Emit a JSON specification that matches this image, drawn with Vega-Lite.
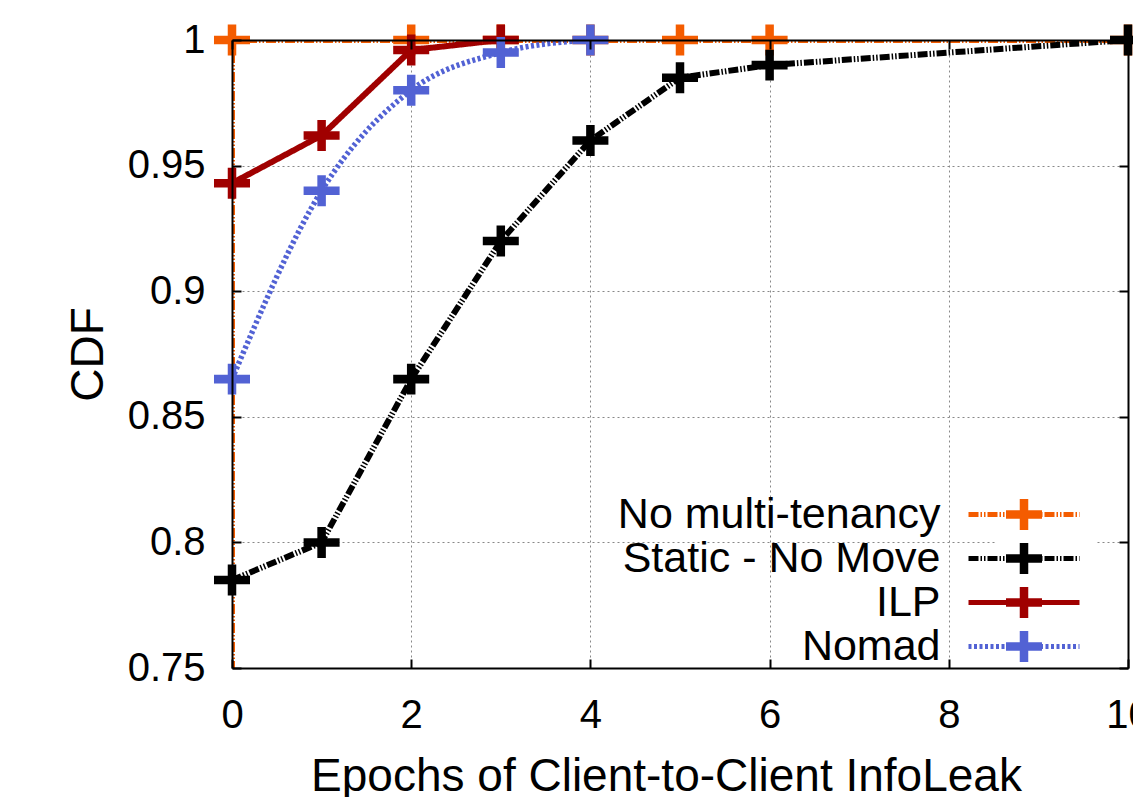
{
  "$schema": "https://vega.github.io/schema/vega-lite/v6.json",
  "width": 896,
  "height": 628,
  "autosize": {"type": "none"},
  "padding": {"left": 232, "top": 40, "right": 5, "bottom": 129},
  "background": "white",
  "config": {
    "font": "Liberation Sans",
    "view": {"stroke": null},
    "axis": {"labelColor": "black", "titleColor": "black", "domainColor": "black", "tickColor": "black", "labelFont": "Liberation Sans", "titleFont": "Liberation Sans", "titleFontWeight": "normal"}
  },
  "data": {
    "values": [
      {"series": "No multi-tenancy", "x": 0, "y": 0},
      {"series": "No multi-tenancy", "x": 0, "y": 1},
      {"series": "No multi-tenancy", "x": 2, "y": 1},
      {"series": "No multi-tenancy", "x": 3, "y": 1},
      {"series": "No multi-tenancy", "x": 4, "y": 1},
      {"series": "No multi-tenancy", "x": 5, "y": 1},
      {"series": "No multi-tenancy", "x": 6, "y": 1},
      {"series": "No multi-tenancy", "x": 10, "y": 1},
      {"series": "Static - No Move", "x": 0, "y": 0.785},
      {"series": "Static - No Move", "x": 1, "y": 0.8},
      {"series": "Static - No Move", "x": 2, "y": 0.865},
      {"series": "Static - No Move", "x": 3, "y": 0.92},
      {"series": "Static - No Move", "x": 4, "y": 0.96},
      {"series": "Static - No Move", "x": 5, "y": 0.985},
      {"series": "Static - No Move", "x": 6, "y": 0.99},
      {"series": "Static - No Move", "x": 10, "y": 1},
      {"series": "ILP", "x": 0, "y": 0.943},
      {"series": "ILP", "x": 1, "y": 0.962},
      {"series": "ILP", "x": 2, "y": 0.996},
      {"series": "ILP", "x": 3, "y": 1},
      {"series": "Nomad", "x": 0, "y": 0.865},
      {"series": "Nomad", "x": 1, "y": 0.94},
      {"series": "Nomad", "x": 2, "y": 0.98},
      {"series": "Nomad", "x": 3, "y": 0.995},
      {"series": "Nomad", "x": 4, "y": 1}
    ]
  },
  "resolve": {"axis": {"x": "independent", "y": "independent"}},
  "layer": [
    {
      "transform": [{"filter": "datum.series !== 'Nomad'"}],
      "mark": {"type": "line", "clip": true, "interpolate": "linear", "strokeCap": "butt", "strokeWidth": 6},
      "encoding": {
        "x": {"field": "x", "type": "quantitative", "scale": {"domain": [0, 10], "nice": false, "zero": false},
          "axis": {"orient": "bottom", "grid": true, "values": [2, 4, 6, 8], "gridDash": [2, 3], "gridColor": "#888888", "gridWidth": 1, "domain": false, "ticks": false, "labels": false, "title": null, "zindex": 0}},
        "y": {"field": "y", "type": "quantitative", "scale": {"domain": [0.75, 1], "nice": false, "zero": false},
          "axis": {"orient": "left", "grid": true, "values": [0.8, 0.85, 0.9, 0.95], "gridDash": [2, 3], "gridColor": "#888888", "gridWidth": 1, "domain": false, "ticks": false, "labels": false, "title": null, "zindex": 0}},
        "color": {"field": "series", "type": "nominal",
          "scale": {"domain": ["No multi-tenancy", "Static - No Move", "ILP", "Nomad"], "range": ["#f45c00", "#000000", "#a00000", "#5262d4"]},
          "legend": {"orient": "none", "legendX": 764.5, "legendY": 447, "title": null, "symbolType": "M-2.921,0H2.921", "symbolSize": 1444, "symbolStrokeWidth": 5, "labelFont": "Liberation Sans", "labelFontSize": 43, "labelColor": "black", "labelAlign": "right", "labelOffset": -105, "labelLimit": 0, "rowPadding": 0, "fillColor": "white", "padding": 6, "zindex": 0}},
        "strokeDash": {"field": "series", "type": "nominal",
          "scale": {"domain": ["No multi-tenancy", "Static - No Move", "ILP", "Nomad"], "range": [[10, 2, 1.5, 2, 1.5, 2], [10, 2, 1.5, 2, 1.5, 2], [1, 0], [3, 2.5]]},
          "legend": {"orient": "none", "legendX": 764.5, "legendY": 447, "title": null, "symbolType": "M-2.921,0H2.921", "symbolSize": 1444, "symbolStrokeWidth": 5, "labelFont": "Liberation Sans", "labelFontSize": 43, "labelColor": "black", "labelAlign": "right", "labelOffset": -105, "labelLimit": 0, "rowPadding": 0, "fillColor": "white", "padding": 6, "zindex": 0}}
      }
    },
    {
      "transform": [{"filter": "datum.series === 'Nomad'"}],
      "mark": {"type": "line", "clip": true, "interpolate": "monotone", "strokeCap": "butt", "strokeWidth": 5.5},
      "encoding": {
        "x": {"field": "x", "type": "quantitative",
          "axis": {"orient": "top", "grid": false, "values": [0, 2, 4, 6, 8, 10], "domain": true, "domainWidth": 2, "ticks": true, "tickSize": -9, "tickWidth": 2, "labels": false, "title": null, "zindex": 1}},
        "y": {"field": "y", "type": "quantitative",
          "axis": {"orient": "right", "grid": false, "values": [0.75, 0.8, 0.85, 0.9, 0.95, 1], "domain": true, "domainWidth": 2, "ticks": true, "tickSize": -9, "tickWidth": 2, "labels": false, "title": null, "zindex": 1}},
        "color": {"field": "series", "type": "nominal",
          "scale": {"domain": ["No multi-tenancy", "Static - No Move", "ILP", "Nomad"], "range": ["#f45c00", "#000000", "#a00000", "#5262d4"]},
          "legend": {"orient": "none", "legendX": 764.5, "legendY": 447, "title": null, "symbolType": "M-2.921,0H2.921", "symbolSize": 1444, "symbolStrokeWidth": 5, "labelFont": "Liberation Sans", "labelFontSize": 43, "labelColor": "black", "labelAlign": "right", "labelOffset": -105, "labelLimit": 0, "rowPadding": 0, "fillColor": "white", "padding": 6, "zindex": 0}},
        "strokeDash": {"field": "series", "type": "nominal",
          "scale": {"domain": ["No multi-tenancy", "Static - No Move", "ILP", "Nomad"], "range": [[10, 2, 1.5, 2, 1.5, 2], [10, 2, 1.5, 2, 1.5, 2], [1, 0], [3, 2.5]]},
          "legend": {"orient": "none", "legendX": 764.5, "legendY": 447, "title": null, "symbolType": "M-2.921,0H2.921", "symbolSize": 1444, "symbolStrokeWidth": 5, "labelFont": "Liberation Sans", "labelFontSize": 43, "labelColor": "black", "labelAlign": "right", "labelOffset": -105, "labelLimit": 0, "rowPadding": 0, "fillColor": "white", "padding": 6, "zindex": 0}}
      }
    },
    {
      "mark": {"type": "point", "shape": "M-1.091,-0.258H-0.258V-0.939H0.258V-0.258H1.091V0.258H0.258V0.939H-0.258V0.258H-1.091Z", "filled": true, "strokeWidth": 0, "size": 1089, "opacity": 1, "clip": false},
      "encoding": {
        "x": {"field": "x", "type": "quantitative",
          "axis": {"orient": "bottom", "grid": false, "values": [0, 2, 4, 6, 8, 10], "domain": true, "domainWidth": 2, "ticks": true, "tickSize": -9, "tickWidth": 2, "labels": true, "labelFontSize": 40, "labelPadding": 36, "labelFlush": false, "labelOverlap": false, "title": "Epochs of Client-to-Client InfoLeak", "titleFontSize": 46, "titleX": 434, "titleY": 122, "titleBaseline": "alphabetic", "titleAlign": "center", "zindex": 1}},
        "y": {"field": "y", "type": "quantitative",
          "axis": {"orient": "left", "grid": false, "values": [0.75, 0.8, 0.85, 0.9, 0.95, 1], "format": "~g", "domain": true, "domainWidth": 2, "ticks": true, "tickSize": -9, "tickWidth": 2, "labels": true, "labelFontSize": 40, "labelPadding": 36, "labelFlush": false, "labelOverlap": false, "title": "CDF", "titleFontSize": 46, "titleAngle": 270, "titleX": -130, "titleY": 314, "titleBaseline": "alphabetic", "titleAlign": "center", "zindex": 1}},
        "fill": {"field": "series", "type": "nominal", "sort": ["No multi-tenancy", "Static - No Move", "ILP", "Nomad"],
          "scale": {"range": ["#f45c00", "#000000", "#a00000", "#5262d4"]},
          "legend": {"orient": "none", "legendX": 764.5, "legendY": 447, "title": null, "symbolType": "M-0.947,-0.224H-0.224V-0.816H0.224V-0.224H0.947V0.224H0.224V0.816H-0.224V0.224H-0.947Z", "symbolSize": 1444, "symbolStrokeWidth": 0, "symbolOpacity": 1, "labelFont": "Liberation Sans", "labelFontSize": 43, "labelOpacity": 0, "labelAlign": "right", "labelOffset": -105, "labelLimit": 0, "rowPadding": 0, "padding": 6, "zindex": 0}}
      }
    }
  ]
}
